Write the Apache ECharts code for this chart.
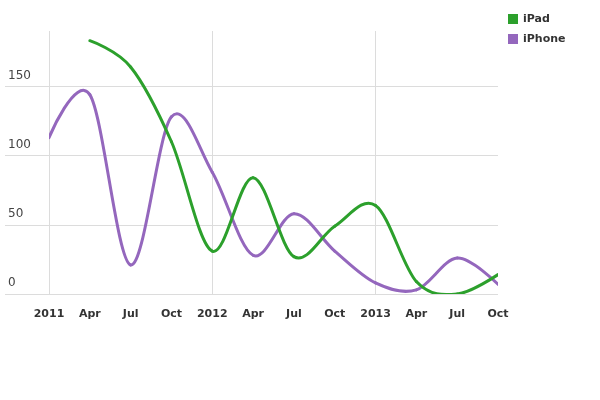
<!DOCTYPE html>
<html>
<head>
<meta charset="utf-8">
<script src="https://cdn.jsdelivr.net/npm/echarts@6/dist/echarts.min.js"></script>
<style>html,body{margin:0;padding:0;background:#fff;}#c{width:600px;height:400px;}</style>
</head>
<body>
<div id="c"></div>
<script>
// months since Jan 2011 (quarterly)
const months = [0, 3, 6, 9, 12, 15, 18, 21, 24, 27, 30, 33];
const xTickLabels = ['2011', 'Apr', 'Jul', 'Oct', '2012', 'Apr', 'Jul', 'Oct', '2013', 'Apr', 'Jul', 'Oct'];
const iPadValues = [null, 183, 164, 110, 31, 84, 27, 49, 64, 9, 0, 14];
const iPhoneValues = [113, 144, 21, 128, 88, 28, 58, 31, 8, 3, 26, 7];
const yTicks = [0, 50, 100, 150];
const yearMonths = [0, 12, 24];

const pairs = vals => months.map((m, i) => [m, vals[i]]).filter(p => p[1] !== null);
const FONT = 'DejaVu Sans';
const GRID_COLOR = '#dcdcdc';
const K = 1 / 6; // cardinal spline, tension 0

function cardinalSeries(name, vals, color, z) {
  const pts = pairs(vals);
  return {
    name: name, type: 'custom', xAxisIndex: 0, yAxisIndex: 0, z: z,
    data: pts, itemStyle: {color: color}, clip: true,
    encode: {x: 0, y: 1},
    renderItem: function (params, api) {
      const i = params.dataIndex;
      const n = pts.length;
      if (i >= n - 1) return null;
      const c = j => api.coord(pts[Math.max(0, Math.min(n - 1, j))]);
      const p0 = i === 0 ? c(1) : c(i - 1);
      const p1 = c(i), p2 = c(i + 1);
      const p3 = i + 2 > n - 1 ? c(i) : c(i + 2);
      let cp1, cp2;
      if (i === 0) cp1 = p1; else cp1 = [p1[0] + K * (p2[0] - p0[0]), p1[1] + K * (p2[1] - p0[1])];
      if (i + 2 > n - 1) cp2 = p2; else cp2 = [p2[0] - K * (p3[0] - p1[0]), p2[1] - K * (p3[1] - p1[1])];
      return {
        type: 'bezierCurve',
        shape: {x1: p1[0], y1: p1[1], cpx1: cp1[0], cpy1: cp1[1], cpx2: cp2[0], cpy2: cp2[1], x2: p2[0], y2: p2[1]},
        style: {stroke: color, lineWidth: 3, fill: null, lineCap: 'round'}
      };
    }
  };
}

const chart = echarts.init(document.getElementById('c'), null, {renderer: 'canvas'});
chart.setOption({
  animation: false,
  textStyle: {fontFamily: FONT},
  legend: {
    orient: 'vertical', left: 508, top: 13.5, padding: 0,
    itemWidth: 10, itemHeight: 10, itemGap: 9,
    icon: 'rect',
    textStyle: {fontFamily: FONT, fontWeight: 'bold', fontSize: 11, color: '#333'},
    data: ['iPad', 'iPhone']
  },
  grid: [
    {left: 49, right: 102, top: 31, bottom: 106},
    {left: 5, right: 102, top: 86.4, bottom: 106},
    {left: 49, width: 326.5, top: 31, bottom: 106}
  ],
  xAxis: [
    {
      type: 'value', gridIndex: 0, min: 0, max: 33, interval: 3,
      axisLine: {show: false}, axisTick: {show: false}, splitLine: {show: false},
      axisLabel: {
        margin: 15, fontFamily: FONT, fontWeight: 'bold', fontSize: 11, color: '#333',
        formatter: v => xTickLabels[months.indexOf(v)]
      }
    },
    {type: 'value', gridIndex: 1, min: 0, max: 1, show: false},
    {
      type: 'value', gridIndex: 2, min: yearMonths[0], max: yearMonths[yearMonths.length - 1], interval: 12,
      axisLine: {show: false}, axisTick: {show: false}, axisLabel: {show: false},
      splitLine: {show: true, lineStyle: {color: GRID_COLOR, width: 1}}
    }
  ],
  yAxis: [
    {type: 'value', gridIndex: 0, min: 0, max: 190, show: false},
    {
      type: 'value', gridIndex: 1, min: yTicks[0], max: yTicks[yTicks.length - 1], interval: 50,
      axisLine: {show: false}, axisTick: {show: false},
      splitLine: {show: true, lineStyle: {color: GRID_COLOR, width: 1}},
      axisLabel: {
        inside: true, margin: 3, align: 'left', verticalAlign: 'bottom',
        padding: [0, 0, 5, 0],
        fontFamily: FONT, fontSize: 12, color: '#444'
      }
    },
    {type: 'value', gridIndex: 2, min: 0, max: 1, show: false}
  ],
  series: [
    cardinalSeries('iPad', iPadValues, '#2ca02c', 3),
    cardinalSeries('iPhone', iPhoneValues, '#9467bd', 2)
  ]
});
</script>
</body>
</html>
